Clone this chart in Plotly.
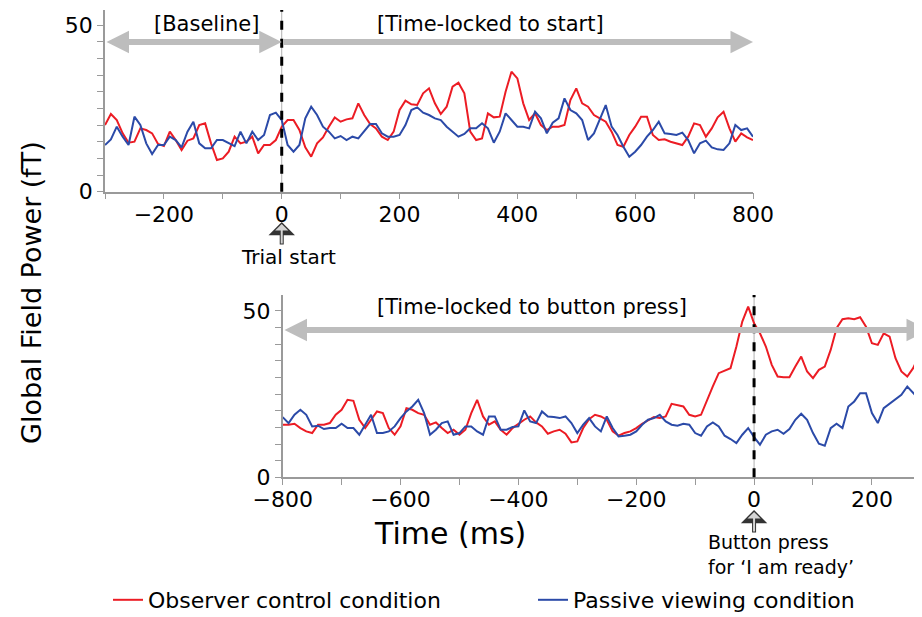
import plotly.graph_objects as go

# ---------------- data ----------------
t_top = list(range(-300, 801, 10))
red_top = [
    20.0, 23.3, 21.5, 17.5, 14.7, 15.0, 19.0, 18.5, 17.5, 14.3,
    13.7, 18.0, 15.5, 12.5, 15.3, 16.0, 20.0, 20.5, 14.5, 9.5,
    10.0, 12.0, 16.5, 14.5, 15.0, 16.5, 11.5, 14.0, 14.0, 15.5,
    19.5, 21.5, 21.5, 18.5, 13.3, 10.5, 14.5,
    16.3, 19.5, 22.3, 21.0, 21.7, 22.0, 26.5, 23.0, 20.3, 19.0,
    16.5, 15.5, 18.0, 24.5, 27.3, 26.2, 26.0, 29.5, 31.0, 26.5,
    23.3, 25.5, 31.5, 32.7, 29.5, 18.0, 15.5, 16.0, 23.5, 22.3,
    22.5, 30.0, 36.0, 34.0, 26.5, 21.5, 23.5,
    20.0, 18.5, 19.5, 19.5, 20.0, 27.5, 31.0, 26.5, 25.5, 23.0,
    22.0, 21.0, 18.0, 14.0, 13.5, 17.0, 19.5, 22.5, 22.5, 17.0,
    15.5, 15.7, 15.0, 14.5, 14.0, 16.5, 20.5, 20.0, 16.5, 19.0,
    22.3, 24.0, 19.0, 15.0, 17.5, 16.3, 15.5,
]
blue_top = [
    14.0, 15.7, 19.5, 16.5, 14.0, 22.5, 20.0, 14.5, 11.3, 14.0,
    14.0, 16.5, 15.5, 13.3, 18.0, 21.0, 14.5, 13.0, 13.0, 15.5,
    15.5, 14.5, 13.7, 18.0, 14.5, 18.0, 15.5, 17.0, 23.0, 23.7,
    21.5, 14.0, 12.0, 14.0, 22.0, 25.5, 23.0,
    19.5, 18.0, 16.0, 16.7, 15.5, 16.5, 16.0, 18.0, 20.3, 20.3,
    17.5, 16.5, 16.5, 17.0, 20.0, 24.5, 25.3, 23.7, 23.0, 22.0,
    21.5, 19.5, 18.0, 16.5, 17.3, 19.0, 19.0, 20.5, 19.0, 14.7,
    18.0, 23.5, 21.5, 19.5, 19.5, 19.0, 24.0,
    22.0, 17.5, 20.7, 22.0, 28.0, 24.5, 23.5, 21.5, 15.5, 17.5,
    22.0, 26.0, 19.5, 17.0, 13.5, 10.5, 12.0, 14.0, 16.5, 18.5,
    21.0, 17.5, 17.3, 17.0, 17.7, 15.5, 11.5, 14.5, 15.3, 13.3,
    12.7, 12.5, 14.5, 20.0, 18.5, 19.0, 16.5,
]

t_bot = list(range(-800, 281, 10))
red_bot = [
    15.8, 15.8, 16.1, 14.8, 13.8, 13.3, 15.8, 15.8, 16.3, 18.8,
    20.3, 23.3, 23.0, 17.3, 14.8, 17.5, 19.8, 19.3, 14.8, 12.8,
    15.3, 20.8, 20.3, 19.3, 18.8, 15.8, 16.5, 14.8, 13.3, 14.3,
    12.8, 14.3, 19.3, 23.3, 18.3, 15.8, 16.8,
    14.3, 12.8, 14.8, 16.1, 17.3, 18.3, 16.5, 15.3, 13.1, 13.8,
    14.3, 13.1, 10.5, 10.8, 14.8, 17.5, 18.8, 18.3, 17.3, 13.8,
    12.5, 13.3, 13.8, 14.8, 16.1, 17.1, 18.1, 17.8, 18.3, 22.1,
    21.8, 21.3, 18.8, 18.3, 18.8, 23.3,
    27.3, 31.3, 32.1, 32.8, 39.3, 46.8, 51.3, 46.3, 43.3, 39.3,
    33.8, 30.3, 30.1, 30.1, 33.3, 36.3, 31.8, 29.8, 32.3, 33.3,
    38.3, 44.8, 47.5, 47.8, 47.5, 48.1, 45.3, 40.3, 39.8, 43.3,
    42.3, 35.8, 31.8, 30.3, 32.8, 36.5,
]
blue_bot = [
    18.1, 16.3, 18.8, 20.3, 18.8, 15.3, 15.5, 14.5, 14.8, 14.8,
    16.1, 14.8, 14.8, 12.8, 15.8, 18.8, 13.3, 13.3, 13.8, 15.3,
    17.8, 19.8, 21.3, 23.3, 19.3, 12.8, 14.3, 16.3, 16.8, 12.8,
    13.3, 15.3, 15.3, 13.8, 12.8, 18.3, 18.3,
    14.3, 14.3, 15.1, 15.3, 20.1, 16.8, 16.3, 19.8, 18.3, 18.1,
    17.8, 18.3, 16.3, 13.3, 15.8, 17.8, 15.3, 13.8, 18.3, 14.8,
    12.3, 12.5, 12.8, 13.8, 15.8, 17.3, 17.8, 18.8, 16.8, 15.8,
    15.5, 16.1, 15.8, 13.3, 12.5, 15.3,
    16.5, 15.3, 12.5, 11.5, 10.3, 12.8, 14.8, 12.1, 9.8, 12.8,
    13.8, 14.3, 13.1, 14.5, 17.3, 19.1, 17.3, 13.3, 10.1, 9.5,
    14.8, 16.1, 14.8, 21.3, 22.8, 25.3, 25.3, 19.3, 16.3, 20.8,
    22.1, 23.3, 24.8, 27.3, 25.3, 23.5,
]

top_xticks = [-200, 0, 200, 400, 600, 800]
bot_xticks = [-800, -600, -400, -200, 0, 200]
y_ticks = [0, 50]
series_names = ["Observer control condition", "Passive viewing condition"]

# ---------------- style ----------------
RED = "#ec1c24"
BLUE = "#2b4aa8"
AXC = "#9a9a9a"
ARROWC = "#bdbdbd"
FONT = "DejaVu Sans"
W, H = 922, 617
OFF = 8  # page body margin


def px(xp):
    return (xp - OFF) / W


def py(yp):
    return 1 - (yp - OFF) / H


fig = go.Figure()
fig.add_trace(go.Scatter(x=t_top, y=red_top, mode="lines", name=series_names[0],
                         line=dict(color=RED, width=2), xaxis="x", yaxis="y",
                         legendgroup="r"))
fig.add_trace(go.Scatter(x=t_top, y=blue_top, mode="lines", name=series_names[1],
                         line=dict(color=BLUE, width=2), xaxis="x", yaxis="y",
                         legendgroup="b"))
fig.add_trace(go.Scatter(x=t_bot, y=red_bot, mode="lines", name=series_names[0],
                         line=dict(color=RED, width=2), xaxis="x2", yaxis="y2",
                         legendgroup="r", showlegend=False))
fig.add_trace(go.Scatter(x=t_bot, y=blue_bot, mode="lines", name=series_names[1],
                         line=dict(color=BLUE, width=2), xaxis="x2", yaxis="y2",
                         legendgroup="b", showlegend=False))

axis_common = dict(showgrid=False, zeroline=False, showline=True, linecolor=AXC,
                   linewidth=1.5, ticks="outside", ticklen=6, tickcolor=AXC,
                   tickwidth=1.2, automargin=False,
                   tickfont=dict(family=FONT, size=22, color="black"))

fig.update_layout(
    width=W, height=H, autosize=False,
    margin=dict(l=0, r=0, t=0, b=0, pad=0, autoexpand=False),
    paper_bgcolor="white", plot_bgcolor="white",
    font=dict(family=FONT, color="black"),
    xaxis=dict(domain=[px(105), px(753)], range=[-300, 800], anchor="y",
               tickmode="array", tickvals=top_xticks, ticklabelstandoff=-4,
               minor=dict(tick0=0, dtick=100, ticks="outside", ticklen=6, tickcolor=AXC),
               **axis_common),
    yaxis=dict(domain=[py(191.7), py(10)], range=[0, 54.5], anchor="x",
               tickmode="array", tickvals=y_ticks,
               minor=dict(tick0=0, dtick=5, ticks="outside", ticklen=6, tickcolor=AXC),
               **axis_common),
    xaxis2=dict(domain=[px(282.7), px(922)], range=[-800, 285], anchor="y2",
                tickmode="array", tickvals=bot_xticks, ticklabelstandoff=-4,
                minor=dict(tick0=0, dtick=100, ticks="outside", ticklen=6, tickcolor=AXC),
                **axis_common),
    yaxis2=dict(domain=[py(477.3), py(295)], range=[0, 54.8], anchor="x2",
                tickmode="array", tickvals=y_ticks,
                minor=dict(tick0=0, dtick=5, ticks="outside", ticklen=6, tickcolor=AXC),
                **axis_common),
    legend=dict(orientation="h", x=px(108), y=py(600), xanchor="left", yanchor="middle",
                font=dict(family=FONT, size=22, color="black"),
                entrywidth=380, entrywidthmode="pixels",
                bgcolor="rgba(0,0,0,0)", traceorder="normal"),
    showlegend=True,
)

# vertical zero lines (dashed)
for xr, yr in (("x", "y domain"), ("x2", "y2 domain")):
    fig.add_shape(type="line", xref=xr, yref=yr, x0=0, x1=0, y0=0, y1=1,
                  line=dict(color="#b0b0b0", width=1), layer="below")
    fig.add_shape(type="line", xref=xr, yref=yr, x0=0, x1=0, y0=0, y1=1,
                  line=dict(color="black", width=3, dash="dash"))

# grey arrows
arrow = dict(text="", showarrow=True, arrowcolor=ARROWC, arrowwidth=6,
             arrowhead=2, arrowsize=0.75, standoff=0, startstandoff=0)
fig.add_annotation(xref="x", yref="y", x=0, y=44.9, axref="x", ayref="y",
                   ax=-300, ay=44.9, arrowside="end+start", startarrowhead=2,
                   startarrowsize=0.75, **arrow)
fig.add_annotation(xref="x", yref="y", x=800, y=44.9, axref="x", ayref="y",
                   ax=0, ay=44.9, arrowside="end", **arrow)
fig.add_annotation(xref="paper", yref="paper", x=px(930), y=py(330),
                   axref="pixel", ayref="pixel", ax=-647, ay=0,
                   arrowside="end+start", startarrowhead=2, startarrowsize=0.75, **arrow)

txt = dict(showarrow=False, xanchor="center", yanchor="middle",
           font=dict(family=FONT, size=21, color="black"))
fig.add_annotation(xref="x", yref="y", x=-127, y=50.2, text="[Baseline]", **txt)
fig.add_annotation(xref="x", yref="y", x=354, y=50.2, text="[Time-locked to start]", **txt)
fig.add_annotation(xref="paper", yref="paper", x=px(532), y=py(307),
                   text="[Time-locked to button press]", **txt)

# event markers (hollow up arrows)
for xr, ytip, ytail in (("x", 222, 246), ("x2", 510, 534)):
    fig.add_annotation(xref=xr, yref="paper", x=0, y=py(ytip), text="",
                       axref="pixel", ayref="pixel", ax=0, ay=ytail - ytip,
                       showarrow=True, arrowhead=1, arrowsize=1.1, arrowwidth=4,
                       arrowcolor="#333333", standoff=0)
    fig.add_annotation(xref=xr, yref="paper", x=0, y=py(ytip + 2), text="",
                       axref="pixel", ayref="pixel", ax=0, ay=ytail - ytip - 3,
                       showarrow=True, arrowhead=1, arrowsize=1.1, arrowwidth=2,
                       arrowcolor="#d4d4d4", standoff=0)

fig.add_annotation(xref="paper", yref="paper", x=px(288), y=py(257), text="Trial start",
                   showarrow=False, xanchor="center", yanchor="middle",
                   font=dict(family=FONT, size=20, color="black"))
fig.add_annotation(xref="paper", yref="paper", x=px(706), y=py(554),
                   text="Button press<br>for \u2018I am ready\u2019", align="left",
                   xanchor="left", yanchor="middle", showarrow=False,
                   font=dict(family=FONT, size=19, color="black"))

# axis titles
fig.add_annotation(xref="paper", yref="paper", x=px(31), y=py(293),
                   text="Global Field Power (fT)", textangle=-90, showarrow=False,
                   xanchor="center", yanchor="middle",
                   font=dict(family=FONT, size=27, color="black"))
fig.add_annotation(xref="paper", yref="paper", x=px(450), y=py(533),
                   text="Time (ms)", showarrow=False, xanchor="center", yanchor="middle",
                   font=dict(family=FONT, size=30, color="black"))

fig.write_html("out.html")
